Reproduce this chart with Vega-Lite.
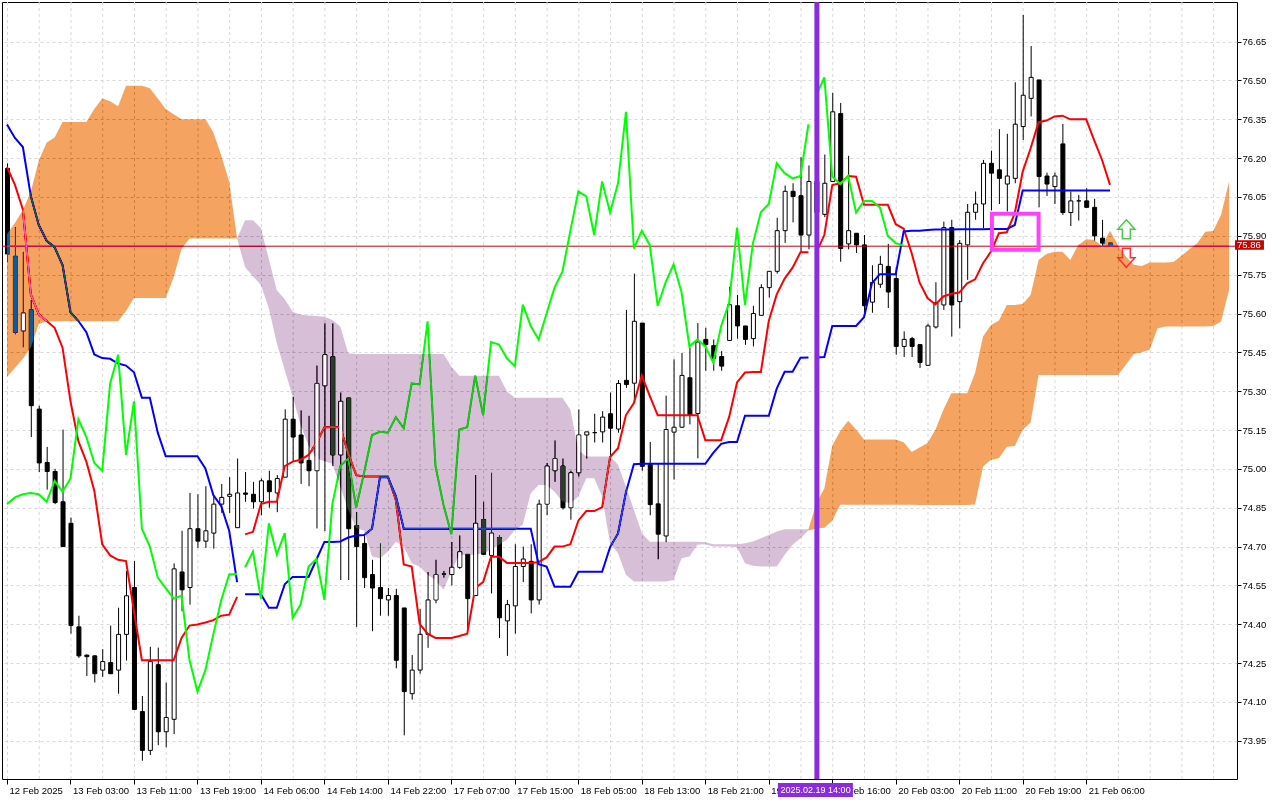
{
  "$schema": "https://vega.github.io/schema/vega-lite/v6.json",
  "width": 1235,
  "height": 777,
  "autosize": {"type": "none"},
  "padding": {"left": 2, "top": 2, "right": 43, "bottom": 21},
  "background": "white",
  "config": {
    "view": {"stroke": "black", "strokeWidth": 1},
    "axis": {"labelFont": "Liberation Sans", "labelFontSize": 9.5, "labelColor": "black", "title": null}
  },
  "resolve": {"axis": {"x": "independent", "y": "independent"}},
  "datasets": {
    "grid": [
      {"g":0},{"g":4},{"g":8},{"g":12},{"g":16},{"g":20},{"g":24},{"g":28},{"g":32},{"g":36},{"g":40},{"g":44},{"g":48},{"g":52},{"g":56},{"g":60},{"g":64},{"g":68},{"g":72},{"g":76},
      {"g":80},{"g":84},{"g":88},{"g":92},{"g":96},{"g":100},{"g":104},{"g":108},{"g":112},{"g":116},{"g":120},{"g":124},{"g":128},{"g":132},{"g":136},{"g":140},{"g":144},{"g":148},{"g":152}
    ],
    "rows": [
      {"i":0,"o":76.16,"h":76.18,"l":75.80,"c":75.83,"t":76.166,"k":76.33,"ch":74.864,"a":75.907,"b":75.356,"seg":1,"kind":"up"},
      {"i":1,"o":75.821,"h":75.933,"l":75.52,"c":75.528,"t":76.097,"k":76.278,"ch":74.89,"a":75.95,"b":75.39,"seg":1,"kind":"up"},
      {"i":2,"o":75.533,"h":75.838,"l":75.47,"c":75.602,"t":76.002,"k":76.243,"ch":74.902,"a":76.00,"b":75.425,"seg":1,"kind":"up"},
      {"i":3,"o":75.614,"h":75.652,"l":75.123,"c":75.244,"t":75.674,"k":76.054,"ch":74.907,"a":76.07,"b":75.47,"seg":1,"kind":"up"},
      {"i":4,"o":75.231,"h":75.244,"l":74.988,"c":75.023,"t":75.597,"k":75.942,"ch":74.902,"a":76.19,"b":75.56,"seg":1,"kind":"up"},
      {"i":5,"o":75.025,"h":75.085,"l":74.92,"c":74.99,"t":75.571,"k":75.881,"ch":74.873,"a":76.26,"b":75.57,"seg":1,"kind":"up"},
      {"i":6,"o":74.99,"h":75.0,"l":74.864,"c":74.87,"t":75.545,"k":75.856,"ch":74.954,"a":76.28,"b":75.57,"seg":1,"kind":"up"},
      {"i":7,"o":74.873,"h":75.152,"l":74.70,"c":74.70,"t":75.468,"k":75.787,"ch":74.912,"a":76.34,"b":75.57,"seg":1,"kind":"up"},
      {"i":8,"o":74.79,"h":74.812,"l":74.364,"c":74.395,"t":75.261,"k":75.605,"ch":74.963,"a":76.34,"b":75.57,"seg":1,"kind":"up"},
      {"i":9,"o":74.39,"h":74.433,"l":74.27,"c":74.278,"t":75.106,"k":75.571,"ch":75.192,"a":76.34,"b":75.57,"seg":1,"kind":"up"},
      {"i":10,"o":74.281,"h":74.283,"l":74.20,"c":74.275,"t":75.028,"k":75.528,"ch":75.123,"a":76.34,"b":75.57,"seg":1,"kind":"up"},
      {"i":11,"o":74.278,"h":74.28,"l":74.175,"c":74.209,"t":74.916,"k":75.442,"ch":75.023,"a":76.39,"b":75.57,"seg":1,"kind":"up"},
      {"i":12,"o":74.223,"h":74.304,"l":74.197,"c":74.256,"t":74.709,"k":75.428,"ch":74.993,"a":76.43,"b":75.57,"seg":1,"kind":"up"},
      {"i":13,"o":74.252,"h":74.395,"l":74.209,"c":74.209,"t":74.666,"k":75.425,"ch":75.33,"a":76.42,"b":75.57,"seg":1,"kind":"up"},
      {"i":14,"o":74.223,"h":74.464,"l":74.132,"c":74.361,"t":74.649,"k":75.407,"ch":75.441,"a":76.40,"b":75.57,"seg":1,"kind":"up"},
      {"i":15,"o":74.361,"h":74.606,"l":74.26,"c":74.51,"t":74.644,"k":75.399,"ch":75.054,"a":76.48,"b":75.61,"seg":1,"kind":"up"},
      {"i":16,"o":74.542,"h":74.644,"l":74.071,"c":74.071,"t":74.45,"k":75.373,"ch":75.261,"a":76.48,"b":75.66,"seg":1,"kind":"up"},
      {"i":17,"o":74.063,"h":74.123,"l":73.873,"c":73.913,"t":74.261,"k":75.275,"ch":74.769,"a":76.48,"b":75.66,"seg":1,"kind":"up"},
      {"i":18,"o":73.913,"h":74.313,"l":73.895,"c":74.256,"t":74.261,"k":75.275,"ch":74.70,"a":76.47,"b":75.66,"seg":1,"kind":"up"},
      {"i":19,"o":74.244,"h":74.31,"l":73.933,"c":73.985,"t":74.261,"k":75.14,"ch":74.58,"a":76.43,"b":75.66,"seg":1,"kind":"up"},
      {"i":20,"o":73.985,"h":74.175,"l":73.925,"c":74.04,"t":74.261,"k":75.049,"ch":74.54,"a":76.39,"b":75.66,"seg":1,"kind":"up"},
      {"i":21,"o":74.033,"h":74.635,"l":73.976,"c":74.614,"t":74.261,"k":75.049,"ch":74.499,"a":76.37,"b":75.74,"seg":1,"kind":"up"},
      {"i":22,"o":74.602,"h":74.761,"l":74.45,"c":74.533,"t":74.347,"k":75.049,"ch":74.511,"a":76.35,"b":75.85,"seg":1,"kind":"up"},
      {"i":23,"o":74.542,"h":74.907,"l":74.476,"c":74.769,"t":74.395,"k":75.049,"ch":74.261,"a":76.35,"b":75.89,"seg":1,"kind":"up"},
      {"i":24,"o":74.769,"h":74.902,"l":74.695,"c":74.721,"t":74.399,"k":75.049,"ch":74.14,"a":76.35,"b":75.89,"seg":1,"kind":"up"},
      {"i":25,"o":74.721,"h":74.933,"l":74.695,"c":74.761,"t":74.407,"k":75.002,"ch":74.223,"a":76.35,"b":75.89,"seg":1,"kind":"up"},
      {"i":26,"o":74.752,"h":74.898,"l":74.692,"c":74.864,"t":74.416,"k":74.899,"ch":74.361,"a":76.30,"b":75.89,"seg":1,"kind":"up"},
      {"i":27,"o":74.864,"h":74.942,"l":74.83,"c":74.89,"t":74.433,"k":74.856,"ch":74.494,"a":76.21,"b":75.89,"seg":1,"kind":"up"},
      {"i":28,"o":74.894,"h":74.968,"l":74.83,"c":74.902,"t":74.437,"k":74.761,"ch":74.592,"a":76.11,"b":75.89,"seg":1,"kind":"up"},
      {"i":29,"o":74.773,"h":75.04,"l":74.773,"c":74.907,"t":74.506,"k":74.563,"ch":74.594,"a":75.89,"b":75.89,"seg":1,"kind":"up"},
      {"i":29,"a":75.89,"b":75.89,"seg":2,"kind":"down"},
      {"i":30,"o":74.907,"h":74.988,"l":74.873,"c":74.902,"t":74.747,"k":74.516,"ch":74.62,"a":75.78,"b":75.96,"seg":2,"kind":"down"},
      {"i":31,"o":74.902,"h":74.95,"l":74.847,"c":74.873,"t":74.757,"k":74.516,"ch":74.68,"a":75.743,"b":75.96,"seg":2,"kind":"down"},
      {"i":32,"o":74.873,"h":74.963,"l":74.821,"c":74.954,"t":74.864,"k":74.516,"ch":74.499,"a":75.71,"b":75.93,"seg":2,"kind":"down"},
      {"i":33,"o":74.954,"h":74.993,"l":74.85,"c":74.912,"t":74.873,"k":74.464,"ch":74.79,"a":75.62,"b":75.81,"seg":2,"kind":"down"},
      {"i":34,"o":74.907,"h":74.976,"l":74.833,"c":74.963,"t":74.873,"k":74.464,"ch":74.67,"a":75.485,"b":75.69,"seg":2,"kind":"down"},
      {"i":35,"o":74.968,"h":75.23,"l":74.968,"c":75.192,"t":75.011,"k":74.554,"ch":74.752,"a":75.382,"b":75.655,"seg":2,"kind":"down"},
      {"i":36,"o":75.192,"h":75.278,"l":75.028,"c":75.123,"t":75.028,"k":74.583,"ch":74.425,"a":75.279,"b":75.607,"seg":2,"kind":"down"},
      {"i":37,"o":75.131,"h":75.226,"l":74.942,"c":75.023,"t":75.035,"k":74.583,"ch":74.476,"a":75.17,"b":75.595,"seg":2,"kind":"down"},
      {"i":38,"o":75.033,"h":75.205,"l":74.933,"c":74.993,"t":75.054,"k":74.583,"ch":74.623,"a":75.09,"b":75.592,"seg":2,"kind":"down"},
      {"i":39,"o":74.993,"h":75.399,"l":74.77,"c":75.33,"t":75.10,"k":74.65,"ch":74.652,"a":75.04,"b":75.59,"seg":2,"kind":"down"},
      {"i":40,"o":75.321,"h":75.562,"l":74.76,"c":75.441,"t":75.161,"k":74.718,"ch":74.494,"a":75.03,"b":75.588,"seg":2,"kind":"down"},
      {"i":41,"o":75.433,"h":75.562,"l":75.011,"c":75.054,"t":75.161,"k":74.718,"ch":74.864,"a":75.02,"b":75.575,"seg":2,"kind":"down"},
      {"i":42,"o":75.054,"h":75.295,"l":74.571,"c":75.261,"t":75.161,"k":74.72,"ch":75.011,"a":74.932,"b":75.55,"seg":2,"kind":"down"},
      {"i":43,"o":75.274,"h":75.274,"l":74.571,"c":74.769,"t":75.06,"k":74.735,"ch":75.04,"a":74.842,"b":75.447,"seg":2,"kind":"down"},
      {"i":44,"o":74.781,"h":74.833,"l":74.39,"c":74.70,"t":74.976,"k":74.743,"ch":74.85,"a":74.771,"b":75.444,"seg":2,"kind":"down"},
      {"i":45,"o":74.712,"h":74.743,"l":74.54,"c":74.58,"t":74.971,"k":74.745,"ch":74.985,"a":74.762,"b":75.444,"seg":2,"kind":"down"},
      {"i":46,"o":74.592,"h":74.649,"l":74.373,"c":74.54,"t":74.971,"k":74.769,"ch":75.131,"a":74.662,"b":75.444,"seg":2,"kind":"down"},
      {"i":47,"o":74.542,"h":74.712,"l":74.433,"c":74.499,"t":74.971,"k":74.968,"ch":75.143,"a":74.655,"b":75.444,"seg":2,"kind":"down"},
      {"i":48,"o":74.494,"h":74.54,"l":74.433,"c":74.511,"t":74.971,"k":74.968,"ch":75.14,"a":74.681,"b":75.444,"seg":2,"kind":"down"},
      {"i":49,"o":74.511,"h":74.537,"l":74.23,"c":74.261,"t":74.88,"k":74.895,"ch":75.20,"a":74.719,"b":75.444,"seg":2,"kind":"down"},
      {"i":50,"o":74.463,"h":74.463,"l":73.971,"c":74.14,"t":74.631,"k":74.769,"ch":75.157,"a":74.70,"b":75.444,"seg":2,"kind":"down"},
      {"i":51,"o":74.132,"h":74.281,"l":74.109,"c":74.223,"t":74.623,"k":74.769,"ch":75.33,"a":74.636,"b":75.444,"seg":2,"kind":"down"},
      {"i":52,"o":74.223,"h":74.459,"l":74.209,"c":74.361,"t":74.402,"k":74.769,"ch":75.326,"a":74.623,"b":75.444,"seg":2,"kind":"down"},
      {"i":53,"o":74.361,"h":74.602,"l":74.309,"c":74.494,"t":74.364,"k":74.769,"ch":75.57,"a":74.591,"b":75.444,"seg":2,"kind":"down"},
      {"i":54,"o":74.494,"h":74.649,"l":74.481,"c":74.592,"t":74.347,"k":74.769,"ch":75.01,"a":74.571,"b":75.444,"seg":2,"kind":"down"},
      {"i":55,"o":74.594,"h":74.606,"l":74.58,"c":74.594,"t":74.347,"k":74.769,"ch":74.862,"a":74.533,"b":75.444,"seg":2,"kind":"down"},
      {"i":56,"o":74.592,"h":74.718,"l":74.55,"c":74.62,"t":74.347,"k":74.769,"ch":74.748,"a":74.604,"b":75.395,"seg":2,"kind":"down"},
      {"i":57,"o":74.62,"h":74.743,"l":74.614,"c":74.68,"t":74.355,"k":74.769,"ch":75.152,"a":74.668,"b":75.36,"seg":2,"kind":"down"},
      {"i":58,"o":74.67,"h":74.67,"l":74.38,"c":74.499,"t":74.364,"k":74.769,"ch":75.161,"a":74.668,"b":75.36,"seg":2,"kind":"down"},
      {"i":59,"o":74.511,"h":74.976,"l":74.511,"c":74.79,"t":74.54,"k":74.769,"ch":75.361,"a":74.668,"b":75.36,"seg":2,"kind":"down"},
      {"i":60,"o":74.804,"h":74.873,"l":74.67,"c":74.67,"t":74.563,"k":74.769,"ch":75.207,"a":74.674,"b":75.36,"seg":2,"kind":"down"},
      {"i":61,"o":74.666,"h":74.985,"l":74.519,"c":74.752,"t":74.661,"k":74.769,"ch":75.49,"a":74.687,"b":75.36,"seg":2,"kind":"down"},
      {"i":62,"o":74.735,"h":74.743,"l":74.347,"c":74.425,"t":74.661,"k":74.769,"ch":75.48,"a":74.707,"b":75.36,"seg":2,"kind":"down"},
      {"i":63,"o":74.413,"h":74.494,"l":74.278,"c":74.476,"t":74.637,"k":74.769,"ch":75.427,"a":74.726,"b":75.299,"seg":2,"kind":"down"},
      {"i":64,"o":74.471,"h":74.709,"l":74.364,"c":74.623,"t":74.637,"k":74.769,"ch":75.397,"a":74.764,"b":75.275,"seg":2,"kind":"down"},
      {"i":65,"o":74.623,"h":74.70,"l":74.563,"c":74.652,"t":74.637,"k":74.769,"ch":75.634,"a":74.784,"b":75.275,"seg":2,"kind":"down"},
      {"i":66,"o":74.643,"h":74.709,"l":74.442,"c":74.494,"t":74.637,"k":74.769,"ch":75.552,"a":74.906,"b":75.275,"seg":2,"kind":"down"},
      {"i":67,"o":74.494,"h":74.881,"l":74.476,"c":74.864,"t":74.64,"k":74.632,"ch":75.50,"a":74.938,"b":75.275,"seg":2,"kind":"down"},
      {"i":68,"o":74.864,"h":75.023,"l":74.821,"c":75.011,"t":74.658,"k":74.623,"ch":75.60,"a":74.938,"b":75.275,"seg":2,"kind":"down"},
      {"i":69,"o":74.993,"h":75.11,"l":74.95,"c":75.04,"t":74.70,"k":74.545,"ch":75.70,"a":74.912,"b":75.275,"seg":2,"kind":"down"},
      {"i":70,"o":75.011,"h":75.04,"l":74.843,"c":74.85,"t":74.70,"k":74.545,"ch":75.763,"a":74.874,"b":75.275,"seg":2,"kind":"down"},
      {"i":71,"o":74.85,"h":74.993,"l":74.804,"c":74.985,"t":74.709,"k":74.545,"ch":75.92,"a":74.867,"b":75.228,"seg":2,"kind":"down"},
      {"i":72,"o":74.985,"h":75.23,"l":74.971,"c":75.131,"t":74.80,"k":74.603,"ch":76.072,"a":74.893,"b":75.073,"seg":2,"kind":"down"},
      {"i":73,"o":75.131,"h":75.143,"l":75.04,"c":75.143,"t":74.837,"k":74.603,"ch":76.052,"a":74.964,"b":75.048,"seg":2,"kind":"down"},
      {"i":74,"o":75.14,"h":75.213,"l":75.102,"c":75.14,"t":74.837,"k":74.603,"ch":75.903,"a":74.964,"b":75.048,"seg":2,"kind":"down"},
      {"i":75,"o":75.143,"h":75.223,"l":75.102,"c":75.20,"t":74.852,"k":74.603,"ch":76.11,"a":74.893,"b":75.048,"seg":2,"kind":"down"},
      {"i":76,"o":75.213,"h":75.295,"l":75.04,"c":75.157,"t":75.046,"k":74.698,"ch":75.99,"a":74.713,"b":75.048,"seg":2,"kind":"down"},
      {"i":77,"o":75.154,"h":75.343,"l":75.14,"c":75.33,"t":75.08,"k":74.751,"ch":76.103,"a":74.674,"b":75.016,"seg":2,"kind":"down"},
      {"i":78,"o":75.342,"h":75.614,"l":75.313,"c":75.326,"t":75.208,"k":74.91,"ch":76.379,"a":74.591,"b":74.932,"seg":2,"kind":"down"},
      {"i":79,"o":75.331,"h":75.754,"l":75.255,"c":75.57,"t":75.254,"k":75.018,"ch":75.851,"a":74.565,"b":74.842,"seg":2,"kind":"down"},
      {"i":80,"o":75.563,"h":75.563,"l":74.993,"c":75.01,"t":75.36,"k":75.02,"ch":75.92,"a":74.565,"b":74.752,"seg":2,"kind":"down"},
      {"i":81,"o":75.017,"h":75.104,"l":74.821,"c":74.862,"t":75.282,"k":75.02,"ch":75.865,"a":74.565,"b":74.719,"seg":2,"kind":"down"},
      {"i":82,"o":74.865,"h":75.021,"l":74.651,"c":74.748,"t":75.207,"k":75.02,"ch":75.63,"a":74.565,"b":74.719,"seg":2,"kind":"down"},
      {"i":83,"o":74.741,"h":75.283,"l":74.717,"c":75.152,"t":75.207,"k":75.02,"ch":75.72,"a":74.565,"b":74.719,"seg":2,"kind":"down"},
      {"i":84,"o":75.142,"h":75.423,"l":74.959,"c":75.161,"t":75.207,"k":75.02,"ch":75.79,"a":74.571,"b":74.719,"seg":2,"kind":"down"},
      {"i":85,"o":75.161,"h":75.448,"l":75.159,"c":75.361,"t":75.207,"k":75.02,"ch":75.683,"a":74.655,"b":74.719,"seg":2,"kind":"down"},
      {"i":86,"o":75.352,"h":75.469,"l":75.172,"c":75.207,"t":75.207,"k":75.02,"ch":75.473,"a":74.662,"b":74.719,"seg":2,"kind":"down"},
      {"i":87,"o":75.214,"h":75.563,"l":75.041,"c":75.49,"t":75.207,"k":75.02,"ch":75.50,"a":74.707,"b":74.719,"seg":2,"kind":"down"},
      {"i":88,"o":75.50,"h":75.545,"l":75.379,"c":75.48,"t":75.111,"k":75.02,"ch":75.473,"a":74.709,"b":74.717,"seg":2,"kind":"down"},
      {"i":89,"o":75.476,"h":75.50,"l":75.379,"c":75.427,"t":75.111,"k":75.062,"ch":75.411,"a":74.70,"b":74.709,"seg":2,"kind":"down"},
      {"i":90,"o":75.434,"h":75.455,"l":75.379,"c":75.397,"t":75.111,"k":75.097,"ch":75.552,"a":74.70,"b":74.709,"seg":2,"kind":"down"},
      {"i":91,"o":75.496,"h":75.703,"l":75.496,"c":75.634,"t":75.20,"k":75.104,"ch":75.641,"a":74.70,"b":74.709,"seg":2,"kind":"down"},
      {"i":92,"o":75.63,"h":75.672,"l":75.503,"c":75.552,"t":75.334,"k":75.104,"ch":75.932,"a":74.697,"b":74.709,"seg":2,"kind":"down"},
      {"i":93,"o":75.552,"h":75.552,"l":75.479,"c":75.50,"t":75.372,"k":75.205,"ch":75.633,"a":74.636,"b":74.713,"seg":2,"kind":"down"},
      {"i":94,"o":75.503,"h":75.63,"l":75.473,"c":75.60,"t":75.374,"k":75.205,"ch":75.871,"a":74.626,"b":74.72,"seg":2,"kind":"down"},
      {"i":95,"o":75.593,"h":75.713,"l":75.593,"c":75.70,"t":75.374,"k":75.205,"ch":75.991,"a":74.623,"b":74.732,"seg":2,"kind":"down"},
      {"i":96,"o":75.70,"h":75.763,"l":75.662,"c":75.763,"t":75.571,"k":75.205,"ch":76.023,"a":74.623,"b":74.745,"seg":2,"kind":"down"},
      {"i":97,"o":75.763,"h":75.97,"l":75.754,"c":75.92,"t":75.674,"k":75.31,"ch":76.18,"a":74.623,"b":74.758,"seg":2,"kind":"down"},
      {"i":98,"o":75.92,"h":76.094,"l":75.873,"c":76.072,"t":75.735,"k":75.375,"ch":76.142,"a":74.668,"b":74.767,"seg":2,"kind":"down"},
      {"i":99,"o":76.072,"h":76.103,"l":75.952,"c":76.052,"t":75.777,"k":75.375,"ch":76.122,"a":74.707,"b":74.767,"seg":2,"kind":"down"},
      {"i":100,"o":76.055,"h":76.204,"l":75.834,"c":75.903,"t":75.837,"k":75.429,"ch":76.131,"a":74.732,"b":74.767,"seg":2,"kind":"down"},
      {"i":101,"o":75.903,"h":76.172,"l":75.848,"c":76.11,"t":75.837,"k":75.43,"ch":76.331,"a":74.762,"b":74.767,"seg":2,"kind":"down"},
      {"i":101,"a":74.767,"b":74.762,"seg":3,"kind":"up"},
      {"i":102,"o":76.11,"h":76.25,"l":75.90,"c":75.99,"t":75.837,"k":75.43,"ch":76.443,"a":74.869,"b":74.77,"seg":3,"kind":"up"},
      {"i":103,"o":75.983,"h":76.214,"l":75.972,"c":76.103,"t":75.903,"k":75.432,"ch":76.512,"a":74.924,"b":74.773,"seg":3,"kind":"up"},
      {"i":104,"o":76.11,"h":76.452,"l":76.11,"c":76.379,"t":76.096,"k":75.552,"ch":76.129,"a":75.09,"b":74.80,"seg":3,"kind":"up"},
      {"i":105,"o":76.372,"h":76.413,"l":75.80,"c":75.851,"t":76.103,"k":75.552,"ch":76.10,"a":75.145,"b":74.862,"seg":3,"kind":"up"},
      {"i":106,"o":75.869,"h":76.209,"l":75.848,"c":75.92,"t":76.131,"k":75.552,"ch":76.131,"a":75.186,"b":74.862,"seg":3,"kind":"up"},
      {"i":107,"o":75.91,"h":75.91,"l":75.834,"c":75.865,"t":76.128,"k":75.552,"ch":75.99,"a":75.152,"b":74.862,"seg":3,"kind":"up"},
      {"i":108,"o":75.865,"h":75.903,"l":75.603,"c":75.63,"t":76.02,"k":75.586,"ch":76.035,"a":75.114,"b":74.862,"seg":3,"kind":"up"},
      {"i":109,"o":75.644,"h":75.786,"l":75.603,"c":75.72,"t":76.02,"k":75.717,"ch":76.035,"a":75.114,"b":74.862,"seg":3,"kind":"up"},
      {"i":110,"o":75.713,"h":75.823,"l":75.699,"c":75.79,"t":76.02,"k":75.752,"ch":76.01,"a":75.114,"b":74.862,"seg":3,"kind":"up"},
      {"i":111,"o":75.782,"h":75.869,"l":75.621,"c":75.683,"t":76.02,"k":75.752,"ch":75.90,"a":75.114,"b":74.862,"seg":3,"kind":"up"},
      {"i":112,"o":75.735,"h":75.779,"l":75.441,"c":75.473,"t":75.945,"k":75.752,"ch":75.872,"a":75.114,"b":74.862,"seg":3,"kind":"up"},
      {"i":113,"o":75.473,"h":75.531,"l":75.432,"c":75.50,"t":75.928,"k":75.917,"ch":75.862,"a":75.103,"b":74.862,"seg":3,"kind":"up"},
      {"i":114,"o":75.503,"h":75.51,"l":75.432,"c":75.473,"t":75.834,"k":75.92,"a":75.065,"b":74.862,"seg":3,"kind":"up"},
      {"i":115,"o":75.48,"h":75.48,"l":75.39,"c":75.411,"t":75.72,"k":75.92,"a":75.083,"b":74.861,"seg":3,"kind":"up"},
      {"i":116,"o":75.40,"h":75.561,"l":75.40,"c":75.552,"t":75.66,"k":75.923,"a":75.10,"b":74.861,"seg":3,"kind":"up"},
      {"i":117,"o":75.548,"h":75.721,"l":75.542,"c":75.641,"t":75.635,"k":75.924,"a":75.151,"b":74.861,"seg":3,"kind":"up"},
      {"i":118,"o":75.633,"h":75.955,"l":75.614,"c":75.932,"t":75.666,"k":75.924,"a":75.228,"b":74.861,"seg":3,"kind":"up"},
      {"i":119,"o":75.932,"h":75.962,"l":75.511,"c":75.633,"t":75.676,"k":75.924,"a":75.292,"b":74.861,"seg":3,"kind":"up"},
      {"i":120,"o":75.646,"h":75.884,"l":75.543,"c":75.871,"t":75.681,"k":75.925,"a":75.292,"b":74.861,"seg":3,"kind":"up"},
      {"i":121,"o":75.865,"h":76.023,"l":75.73,"c":75.991,"t":75.717,"k":75.925,"a":75.292,"b":74.861,"seg":3,"kind":"up"},
      {"i":122,"o":75.991,"h":76.071,"l":75.962,"c":76.023,"t":75.732,"k":75.925,"a":75.37,"b":74.863,"seg":3,"kind":"up"},
      {"i":123,"o":76.023,"h":76.193,"l":75.93,"c":76.18,"t":75.794,"k":75.925,"a":75.511,"b":75.009,"seg":3,"kind":"up"},
      {"i":124,"o":76.18,"h":76.229,"l":75.998,"c":76.142,"t":75.839,"k":75.926,"a":75.556,"b":75.035,"seg":3,"kind":"up"},
      {"i":125,"o":76.155,"h":76.312,"l":76.023,"c":76.122,"t":75.91,"k":75.926,"a":75.573,"b":75.041,"seg":3,"kind":"up"},
      {"i":126,"o":76.10,"h":76.294,"l":75.994,"c":76.131,"t":75.914,"k":75.926,"a":75.633,"b":75.086,"seg":3,"kind":"up"},
      {"i":127,"o":76.122,"h":76.493,"l":76.103,"c":76.331,"t":75.987,"k":75.942,"a":75.633,"b":75.088,"seg":3,"kind":"up"},
      {"i":128,"o":76.322,"h":76.753,"l":76.27,"c":76.443,"t":76.148,"k":76.075,"a":75.637,"b":75.151,"seg":3,"kind":"up"},
      {"i":129,"o":76.431,"h":76.633,"l":76.361,"c":76.512,"t":76.238,"k":76.075,"a":75.672,"b":75.179,"seg":3,"kind":"up"},
      {"i":130,"o":76.502,"h":76.502,"l":76.01,"c":76.129,"t":76.339,"k":76.075,"a":75.807,"b":75.363,"seg":3,"kind":"up"},
      {"i":131,"o":76.131,"h":76.144,"l":76.054,"c":76.10,"t":76.345,"k":76.075,"a":75.83,"b":75.363,"seg":3,"kind":"up"},
      {"i":132,"o":76.09,"h":76.144,"l":76.023,"c":76.131,"t":76.361,"k":76.075,"a":75.839,"b":75.363,"seg":3,"kind":"up"},
      {"i":133,"o":76.255,"h":76.332,"l":75.981,"c":75.99,"t":76.364,"k":76.075,"a":75.839,"b":75.363,"seg":3,"kind":"up"},
      {"i":134,"o":75.99,"h":76.071,"l":75.938,"c":76.035,"t":76.35,"k":76.075,"a":75.807,"b":75.363,"seg":3,"kind":"up"},
      {"i":135,"o":76.035,"h":76.058,"l":75.959,"c":76.035,"t":76.35,"k":76.075,"a":75.865,"b":75.363,"seg":3,"kind":"up"},
      {"i":136,"o":76.035,"h":76.084,"l":76.01,"c":76.01,"t":76.35,"k":76.075,"a":75.887,"b":75.363,"seg":3,"kind":"up"},
      {"i":137,"o":76.01,"h":76.043,"l":75.882,"c":75.90,"t":76.27,"k":76.075,"a":75.884,"b":75.363,"seg":3,"kind":"up"},
      {"i":138,"o":75.891,"h":75.962,"l":75.859,"c":75.872,"t":76.193,"k":76.075,"a":75.861,"b":75.363,"seg":3,"kind":"up"},
      {"i":139,"o":75.872,"h":75.872,"l":75.86,"c":75.862,"t":76.097,"k":76.075,"a":75.92,"b":75.363,"seg":3,"kind":"up"},
      {"i":140,"a":75.865,"b":75.363,"seg":3,"kind":"up"},
      {"i":141,"a":75.82,"b":75.402,"seg":3,"kind":"up"},
      {"i":142,"a":75.788,"b":75.444,"seg":3,"kind":"up"},
      {"i":143,"a":75.784,"b":75.45,"seg":3,"kind":"up"},
      {"i":144,"a":75.797,"b":75.46,"seg":3,"kind":"up"},
      {"i":145,"a":75.797,"b":75.543,"seg":3,"kind":"up"},
      {"i":146,"a":75.797,"b":75.55,"seg":3,"kind":"up"},
      {"i":147,"a":75.799,"b":75.55,"seg":3,"kind":"up"},
      {"i":148,"a":75.823,"b":75.55,"seg":3,"kind":"up"},
      {"i":149,"a":75.848,"b":75.55,"seg":3,"kind":"up"},
      {"i":150,"a":75.871,"b":75.55,"seg":3,"kind":"up"},
      {"i":151,"a":75.916,"b":75.55,"seg":3,"kind":"up"},
      {"i":152,"a":75.919,"b":75.552,"seg":3,"kind":"up"},
      {"i":153,"a":75.981,"b":75.569,"seg":3,"kind":"up"},
      {"i":154,"a":76.11,"b":75.691,"seg":3,"kind":"up"}
    ]
  },
  "layer": [
    {
      "data": {"name": "grid"},
      "mark": {"type": "rule", "color": "#d9d9d9", "strokeWidth": 1, "strokeDash": [3, 3], "xOffset": 0.5},
      "encoding": {
        "x": {"field": "g", "type": "quantitative", "scale": {"domain": [0, 154.375], "nice": false, "zero": false},
          "axis": {
            "orient": "bottom",
            "values": [0,8,16,24,32,40,48,56,64,72,80,88,96,104,112,120,128,136],
            "labelExpr": "['12 Feb 2025','13 Feb 03:00','13 Feb 11:00','13 Feb 19:00','14 Feb 06:00','14 Feb 14:00','14 Feb 22:00','17 Feb 07:00','17 Feb 15:00','18 Feb 05:00','18 Feb 13:00','18 Feb 21:00','19 Feb 08:00','19 Feb 16:00','20 Feb 03:00','20 Feb 11:00','20 Feb 19:00','21 Feb 06:00'][round(datum.value / 8)]",
            "grid": false, "tickSize": 5, "tickColor": "black",
            "domain": false, "labelAlign": "left", "labelBaseline": "top", "labelPadding": 1, "labelOffset": 2,
            "labelOverlap": false, "labelFlush": false, "labelBound": false
          }}
      }
    },
    {
      "data": {"name": "rows"},
      "mark": {"type": "rule", "color": "black", "strokeWidth": 1, "xOffset": 0.5, "clip": true},
      "encoding": {
        "x": {"field": "i", "type": "quantitative", "scale": {"domain": [0, 154.375], "nice": false, "zero": false}, "axis": null},
        "y": {"field": "l", "type": "quantitative", "scale": {"domain": [73.8025, 76.803], "nice": false, "zero": false},
          "axis": {
            "orient": "right",
            "values": [73.95,74.1,74.25,74.4,74.55,74.7,74.85,75,75.15,75.3,75.45,75.6,75.75,75.9,76.05,76.2,76.35,76.5,76.65],
            "format": ".2f", "grid": true, "gridColor": "#d9d9d9", "gridDash": [3, 3],
            "tickSize": 4, "tickColor": "black", "domain": false, "labelPadding": 1,
            "labelOverlap": false, "labelBound": false
          }},
        "y2": {"field": "h"}
      }
    },
    {
      "data": {"name": "rows"},
      "mark": {"type": "bar", "width": 4, "stroke": "black", "strokeWidth": 1, "xOffset": 0.5, "clip": true},
      "encoding": {
        "x": {"field": "i", "type": "quantitative", "scale": {"domain": [0, 154.375], "nice": false, "zero": false}, "axis": null},
        "y": {"field": "o", "type": "quantitative", "scale": {"domain": [73.8025, 76.803], "nice": false, "zero": false}, "axis": null, "stack": null},
        "y2": {"field": "c"},
        "fill": {"condition": {"test": "datum.c >= datum.o", "value": "white"}, "value": "black"}
      }
    },
    {
      "data": {"values": [{}]},
      "mark": {"type": "rule", "color": "#c80000", "strokeWidth": 1},
      "encoding": {
        "y": {"datum": 75.86, "type": "quantitative", "scale": {"domain": [73.8025, 76.803], "nice": false, "zero": false}, "axis": null}
      }
    },
    {
      "data": {"name": "rows"},
      "mark": {"type": "line", "color": "#ff0000", "strokeWidth": 2, "clip": true},
      "encoding": {
        "x": {"field": "i", "type": "quantitative", "scale": {"domain": [0, 154.375], "nice": false, "zero": false}, "axis": null},
        "y": {"field": "t", "type": "quantitative", "scale": {"domain": [73.8025, 76.803], "nice": false, "zero": false}, "axis": null}
      }
    },
    {
      "data": {"name": "rows"},
      "mark": {"type": "line", "color": "#0000ff", "strokeWidth": 2, "clip": true},
      "encoding": {
        "x": {"field": "i", "type": "quantitative", "scale": {"domain": [0, 154.375], "nice": false, "zero": false}, "axis": null},
        "y": {"field": "k", "type": "quantitative", "scale": {"domain": [73.8025, 76.803], "nice": false, "zero": false}, "axis": null}
      }
    },
    {
      "data": {"name": "rows"},
      "mark": {"type": "line", "color": "#00ff00", "strokeWidth": 2, "clip": true},
      "encoding": {
        "x": {"field": "i", "type": "quantitative", "scale": {"domain": [0, 154.375], "nice": false, "zero": false}, "axis": null},
        "y": {"field": "ch", "type": "quantitative", "scale": {"domain": [73.8025, 76.803], "nice": false, "zero": false}, "axis": null}
      }
    },
    {
      "data": {"name": "rows"},
      "mark": {"type": "area", "blend": "difference", "opacity": 1},
      "encoding": {
        "x": {"field": "i", "type": "quantitative", "scale": {"domain": [0, 154.375], "nice": false, "zero": false}, "axis": null},
        "y": {"field": "a", "type": "quantitative", "scale": {"domain": [73.8025, 76.803], "nice": false, "zero": false}, "axis": null, "stack": null},
        "y2": {"field": "b"},
        "color": {"field": "kind", "type": "nominal", "scale": {"domain": ["up", "down"], "range": ["#0b5b9f", "#274027"]}, "legend": null},
        "detail": {"field": "seg", "type": "nominal"}
      }
    },
    {
      "data": {"name": "rows"},
      "transform": [
        {"filter": "isValid(datum.o) && datum.c > datum.o && min(datum.c, max(datum.a, datum.b)) > max(datum.o, min(datum.a, datum.b))"}
      ],
      "mark": {"type": "bar", "width": 3, "fill": "white", "xOffset": 0.5, "yOffset": 0.5, "y2Offset": -0.5},
      "encoding": {
        "x": {"field": "i", "type": "quantitative", "scale": {"domain": [0, 154.375], "nice": false, "zero": false}, "axis": null},
        "y": {"field": "c", "type": "quantitative", "scale": {"domain": [73.8025, 76.803], "nice": false, "zero": false}, "axis": null, "stack": null},
        "y2": {"field": "o"}
      }
    },
    {
      "data": {"values": [{}]},
      "mark": {"type": "rule", "color": "#8a2be2", "strokeWidth": 5, "xOffset": 0.5},
      "encoding": {
        "x": {"datum": 102, "type": "quantitative", "scale": {"domain": [0, 154.375], "nice": false, "zero": false}, "axis": null}
      }
    },
    {
      "data": {"values": [{}]},
      "mark": {"type": "rect", "filled": false, "stroke": "#ff40ff", "strokeWidth": 4},
      "encoding": {
        "x": {"datum": 124.12, "type": "quantitative", "scale": {"domain": [0, 154.375], "nice": false, "zero": false}, "axis": null},
        "x2": {"datum": 130.0},
        "y": {"datum": 75.985, "type": "quantitative", "scale": {"domain": [73.8025, 76.803], "nice": false, "zero": false}, "axis": null},
        "y2": {"datum": 75.846}
      }
    },
    {
      "data": {"values": [{}]},
      "mark": {"type": "point", "shape": "M0,-1L0.9,0L0.42,0L0.42,1L-0.42,1L-0.42,0L-0.9,0Z", "size": 361, "filled": false, "stroke": "#44cc44", "strokeWidth": 1.5, "opacity": 1},
      "encoding": {
        "x": {"datum": 141.06, "type": "quantitative", "scale": {"domain": [0, 154.375], "nice": false, "zero": false}, "axis": null},
        "y": {"datum": 75.925, "type": "quantitative", "scale": {"domain": [73.8025, 76.803], "nice": false, "zero": false}, "axis": null}
      }
    },
    {
      "data": {"values": [{}]},
      "mark": {"type": "point", "shape": "M0,1L0.9,0L0.42,0L0.42,-1L-0.42,-1L-0.42,0L-0.9,0Z", "size": 361, "filled": false, "stroke": "#ff3030", "strokeWidth": 1.5, "opacity": 1},
      "encoding": {
        "x": {"datum": 141.06, "type": "quantitative", "scale": {"domain": [0, 154.375], "nice": false, "zero": false}, "axis": null},
        "y": {"datum": 75.815, "type": "quantitative", "scale": {"domain": [73.8025, 76.803], "nice": false, "zero": false}, "axis": null}
      }
    },
    {
      "data": {"values": [{}]},
      "mark": {"type": "rect", "fill": "#c80000", "clip": false},
      "encoding": {
        "x": {"datum": 154.75, "type": "quantitative", "scale": {"domain": [0, 154.375], "nice": false, "zero": false}, "axis": null},
        "x2": {"datum": 158.4},
        "y": {"datum": 75.883, "type": "quantitative", "scale": {"domain": [73.8025, 76.803], "nice": false, "zero": false}, "axis": null},
        "y2": {"datum": 75.846}
      }
    },
    {
      "data": {"values": [{}]},
      "mark": {"type": "text", "text": "75.86", "color": "white", "font": "Liberation Sans", "fontSize": 9.5, "align": "left", "baseline": "middle", "dx": 2},
      "encoding": {
        "x": {"datum": 154.75, "type": "quantitative", "scale": {"domain": [0, 154.375], "nice": false, "zero": false}, "axis": null},
        "y": {"datum": 75.864, "type": "quantitative", "scale": {"domain": [73.8025, 76.803], "nice": false, "zero": false}, "axis": null}
      }
    },
    {
      "data": {"values": [{}]},
      "mark": {"type": "rect", "fill": "#8a2be2", "clip": false},
      "encoding": {
        "x": {"datum": 97.15, "type": "quantitative", "scale": {"domain": [0, 154.375], "nice": false, "zero": false}, "axis": null},
        "x2": {"datum": 106.6},
        "y": {"datum": 73.787, "type": "quantitative", "scale": {"domain": [73.8025, 76.803], "nice": false, "zero": false}, "axis": null},
        "y2": {"datum": 73.733}
      }
    },
    {
      "data": {"values": [{}]},
      "mark": {"type": "text", "text": "2025.02.19 14:00", "color": "white", "font": "Liberation Sans", "fontSize": 9, "align": "center", "baseline": "middle"},
      "encoding": {
        "x": {"datum": 101.9, "type": "quantitative", "scale": {"domain": [0, 154.375], "nice": false, "zero": false}, "axis": null},
        "y": {"datum": 73.76, "type": "quantitative", "scale": {"domain": [73.8025, 76.803], "nice": false, "zero": false}, "axis": null}
      }
    }
  ]
}
